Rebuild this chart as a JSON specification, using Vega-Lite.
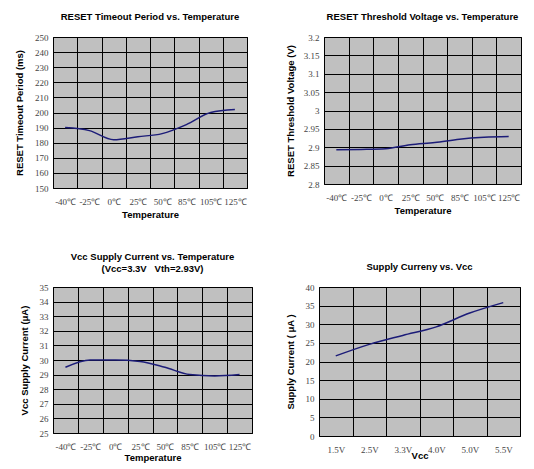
{
  "$schema": "https://vega.github.io/schema/vega-lite/v6.json",
  "background": "white",
  "padding": {"left": 14, "top": 11, "right": 5, "bottom": 5},
  "config": {
    "view": {"fill": "#c0c0c0", "stroke": "black", "strokeWidth": 1},
    "axis": {
      "gridColor": "black", "gridOpacity": 1, "gridWidth": 1,
      "domain": false, "ticks": false,
      "labelFont": "Liberation Serif", "labelFontSize": 9, "labelColor": "#444",
      "titleFont": "Liberation Sans", "titleFontSize": 9.5, "titleFontWeight": "bold", "titleColor": "black"
    },
    "axisX": {"labelAngle": 0, "labelPadding": 9, "titlePadding": 3},
    "axisY": {"labelPadding": 5},
    "title": {"font": "Liberation Sans", "fontSize": 9.5, "fontWeight": "bold", "color": "black", "frame": "group", "offset": 12}
  },
  "datasets": {
    "timeout": [
      {"t": "-40℃", "v": 190}, {"t": "-25℃", "v": 188}, {"t": "0℃", "v": 182}, {"t": "25℃", "v": 184},
      {"t": "50℃", "v": 186}, {"t": "85℃", "v": 192}, {"t": "105℃", "v": 200}, {"t": "125℃", "v": 202}
    ],
    "threshold": [
      {"t": "-40℃", "v": 2.893}, {"t": "-25℃", "v": 2.894}, {"t": "0℃", "v": 2.896}, {"t": "25℃", "v": 2.907},
      {"t": "50℃", "v": 2.913}, {"t": "85℃", "v": 2.922}, {"t": "105℃", "v": 2.927}, {"t": "125℃", "v": 2.929}
    ],
    "current": [
      {"t": "-40℃", "v": 29.5}, {"t": "-25℃", "v": 30.0}, {"t": "0℃", "v": 30.0}, {"t": "25℃", "v": 29.9},
      {"t": "50℃", "v": 29.5}, {"t": "85℃", "v": 29.0}, {"t": "105℃", "v": 28.9}, {"t": "125℃", "v": 29.0}
    ],
    "vcc": [
      {"t": "1.5V", "v": 21.5}, {"t": "2.5V", "v": 24.6}, {"t": "3.3V", "v": 27.0},
      {"t": "4.0V", "v": 29.3}, {"t": "5.0V", "v": 33.0}, {"t": "5.5V", "v": 35.8}
    ]
  },
  "vconcat": [
    {
      "hconcat": [
        {
          "width": 194, "height": 151,
          "title": {"text": "RESET Timeout Period vs. Temperature"},
          "data": {"name": "timeout"},
          "mark": {"type": "line", "color": "#1c1c78", "strokeWidth": 1.5, "interpolate": "monotone"},
          "encoding": {
            "x": {"field": "t", "type": "ordinal", "sort": null, "title": "Temperature",
                  "scale": {"paddingInner": 0, "paddingOuter": 0},
                  "axis": {"tickBand": "extent", "grid": true}},
            "y": {"field": "v", "type": "quantitative", "title": "RESET Timeout Period (ms)",
                  "scale": {"domain": [150, 250], "nice": false},
                  "axis": {"values": [150,160,170,180,190,200,210,220,230,240,250], "titlePadding": 10}}
          }
        },
        {
          "width": 197, "height": 147,
          "title": {"text": "RESET Threshold Voltage vs. Temperature"},
          "data": {"name": "threshold"},
          "mark": {"type": "line", "color": "#1c1c78", "strokeWidth": 1.5, "interpolate": "monotone"},
          "encoding": {
            "x": {"field": "t", "type": "ordinal", "sort": null, "title": "Temperature",
                  "scale": {"paddingInner": 0, "paddingOuter": 0},
                  "axis": {"tickBand": "extent", "grid": true}},
            "y": {"field": "v", "type": "quantitative", "title": "RESET Threshold Voltage (V)",
                  "scale": {"domain": [2.8, 3.2], "nice": false, "zero": false},
                  "axis": {"values": [2.8,2.85,2.9,2.95,3.0,3.05,3.1,3.15,3.2], "format": "~g", "titlePadding": 8}}
          }
        }
      ],
      "spacing": 77,
      "bounds": "flush"
    },
    {
      "hconcat": [
        {
          "width": 199, "height": 146,
          "title": {"text": ["Vcc Supply Current vs. Temperature", "(Vcc=3.3V\u00a0\u00a0\u00a0Vth=2.93V)"], "offset": 10},
          "data": {"name": "current"},
          "mark": {"type": "line", "color": "#1c1c78", "strokeWidth": 1.5, "interpolate": "monotone"},
          "encoding": {
            "x": {"field": "t", "type": "ordinal", "sort": null, "title": "Temperature",
                  "scale": {"paddingInner": 0, "paddingOuter": 0},
                  "axis": {"tickBand": "extent", "grid": true, "titlePadding": 1}},
            "y": {"field": "v", "type": "quantitative", "title": "Vcc Supply Current (μA)",
                  "scale": {"domain": [25, 35], "nice": false, "zero": false},
                  "axis": {"values": [25,26,27,28,29,30,31,32,33,34,35], "titlePadding": 10}}
          }
        },
        {
          "width": 201, "height": 149,
          "title": {"text": "Supply Curreny vs. Vcc"},
          "data": {"name": "vcc"},
          "mark": {"type": "line", "color": "#1c1c78", "strokeWidth": 1.5, "interpolate": "monotone"},
          "encoding": {
            "x": {"field": "t", "type": "ordinal", "sort": null, "title": "Vcc",
                  "scale": {"paddingInner": 0, "paddingOuter": 0},
                  "axis": {"tickBand": "extent", "grid": true, "titlePadding": -4}},
            "y": {"field": "v", "type": "quantitative", "title": "Supply Current ( μA )",
                  "scale": {"domain": [0, 40], "nice": false},
                  "axis": {"values": [0,5,10,15,20,25,30,35,40], "titlePadding": 10}}
          }
        }
      ],
      "spacing": 67,
      "bounds": "flush"
    }
  ],
  "spacing": 32
}
